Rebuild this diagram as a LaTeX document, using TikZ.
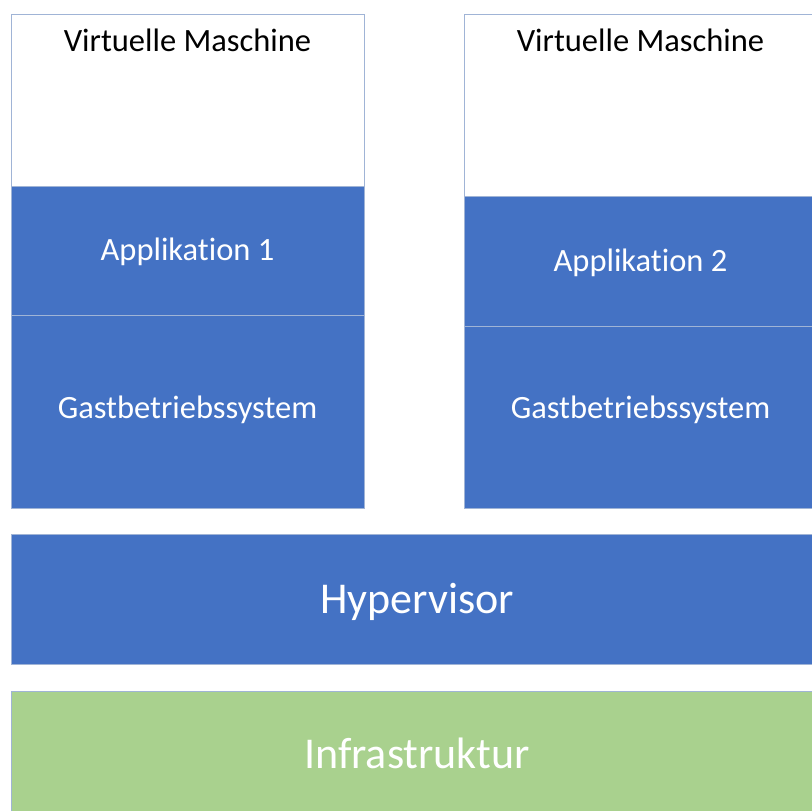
\documentclass[tikz,border=0pt]{standalone}
\usepackage{fontspec}
\setmainfont[Ligatures=NoCommon]{Carlito}
\definecolor{layerblue}{RGB}{68,114,196}
\definecolor{layergreen}{RGB}{169,209,142}
\definecolor{edgegray}{RGB}{160,180,214}
\tikzset{
  layer/.style={rectangle, draw=edgegray, line width=1pt, inner sep=0pt, outer sep=0pt},
  bluelayer/.style={layer, fill=layerblue},
  whitelayer/.style={layer, fill=white},
  greenlayer/.style={layer, fill=layergreen},
  smalltext/.style={inner sep=0pt, anchor=base, font=\fontsize{32.5}{36}\selectfont},
  bigtext/.style={inner sep=0pt, anchor=base, text=white, font=\fontsize{44}{50}\selectfont},
}
\begin{document}
\begin{tikzpicture}[x=1pt, y=-1pt]
  \useasboundingbox (0,0) rectangle (812,811);
  \clip (0,0) rectangle (812,811);
  \fill[white] (0,0) rectangle (812,811);

  % left virtual machine
  \node[whitelayer, minimum width=353pt, minimum height=172pt] (vm1) at (187.5,100) {};
  \node[bluelayer, minimum width=353pt, minimum height=129pt] (app1) at (187.5,250.5) {};
  \node[bluelayer, minimum width=353pt, minimum height=193pt] (os1) at (187.5,411.5) {};
  \node[smalltext] (vm1t) at (187.5,51) {Virtuelle Maschine};
  \node[smalltext, text=white] (app1t) at (187.5,260) {Applikation 1};
  \node[smalltext, text=white] (os1t) at (187.5,418) {Gastbetriebssystem};

  % right virtual machine
  \node[whitelayer, minimum width=353pt, minimum height=182pt] (vm2) at (640.5,105) {};
  \node[bluelayer, minimum width=353pt, minimum height=130pt] (app2) at (640.5,261) {};
  \node[bluelayer, minimum width=353pt, minimum height=182pt] (os2) at (640.5,417) {};
  \node[smalltext] (vm2t) at (640.5,51) {Virtuelle Maschine};
  \node[smalltext, text=white] (app2t) at (640.5,271) {Applikation 2};
  \node[smalltext, text=white] (os2t) at (640.5,418) {Gastbetriebssystem};

  % hypervisor and hardware layers
  \node[bluelayer, minimum width=812pt, minimum height=130pt] (hyp) at (417,599) {};
  \node[bigtext] (hypt) at (417,613) {Hypervisor};
  \node[greenlayer, minimum width=812pt, minimum height=130pt] (infra) at (417,756) {};
  \node[bigtext] (infrat) at (417,768) {Infrastruktur};
\end{tikzpicture}
\end{document}
